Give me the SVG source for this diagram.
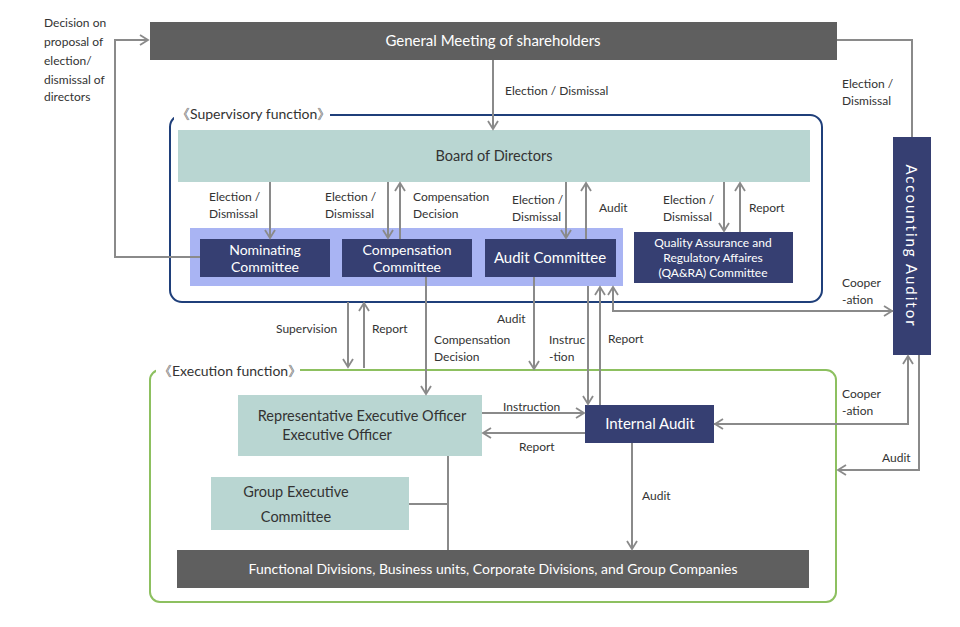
<svg xmlns="http://www.w3.org/2000/svg" width="960" height="627" viewBox="0 0 960 627">
<defs>
<style>
text{font-family:Lato,"Noto Sans","Liberation Sans",sans-serif;fill:#333;font-size:12px}
.w{fill:#fff;font-size:15px}
.s{font-size:14px}
.dk{fill:#333;font-size:14.5px}
.c{text-anchor:middle}
.ln{stroke:#8a8a8a;stroke-width:2;fill:none}
.a{marker-end:url(#ar)}
</style>
<marker id="ar" viewBox="0 0 12 12" refX="10" refY="6" markerWidth="12" markerHeight="12" markerUnits="userSpaceOnUse" orient="auto">
<path d="M2,1 L10,6 L2,11" fill="none" stroke="#8a8a8a" stroke-width="1.8"/>
</marker>
</defs>
<rect width="960" height="627" fill="#fff"/>
<g id="supervisory">
<rect x="170" y="115" width="652" height="187" rx="12" fill="none" stroke="#1f3f7a" stroke-width="2"/>
<rect x="174" y="105" width="156" height="20" fill="#fff"/>
<text x="176" y="119" style="font-size:14px">《Supervisory function》</text>
</g>
<g id="execution">
<rect x="150" y="370" width="686" height="232" rx="10" fill="none" stroke="#8dc060" stroke-width="2"/>
<rect x="156" y="360" width="144" height="20" fill="#fff"/>
<text x="158" y="376" style="font-size:14px">《Execution function》</text>
</g>
<g id="labels">
<text x="44" y="27">Decision on</text>
<text x="44" y="46">proposal of</text>
<text x="44" y="65">election/</text>
<text x="44" y="84">dismissal of</text>
<text x="44" y="101">directors</text>
<text x="505" y="95">Election / Dismissal</text>
<text x="842" y="88">Election /</text>
<text x="842" y="105">Dismissal</text>
<text x="209" y="201">Election /</text>
<text x="209" y="218">Dismissal</text>
<text x="325" y="201">Election /</text>
<text x="325" y="218">Dismissal</text>
<text x="413" y="201">Compensation</text>
<text x="413" y="218">Decision</text>
<text x="512" y="204">Election /</text>
<text x="512" y="221">Dismissal</text>
<text x="599" y="212">Audit</text>
<text x="663" y="204">Election /</text>
<text x="663" y="221">Dismissal</text>
<text x="749" y="212">Report</text>
<text x="276" y="333">Supervision</text>
<text x="372" y="333">Report</text>
<text x="497" y="323">Audit</text>
<text x="434" y="344">Compensation</text>
<text x="434" y="361">Decision</text>
<text x="549" y="344">Instruc</text>
<text x="549" y="361">-tion</text>
<text x="608" y="343">Report</text>
<text x="842" y="287">Cooper</text>
<text x="842" y="304">-ation</text>
<text x="842" y="398">Cooper</text>
<text x="842" y="415">-ation</text>
<text x="882" y="462">Audit</text>
<text x="503" y="411">Instruction</text>
<text x="519" y="451">Report</text>
<text x="642" y="500">Audit</text>
</g>
<g id="gm"><rect x="150" y="22" width="687" height="38" fill="#5f5f5f"/><text class="w c" x="493" y="46">General Meeting of shareholders</text></g>
<g id="board"><rect x="178" y="130" width="632" height="52" fill="#b9d6d2"/><text class="dk c" x="494" y="161">Board of Directors</text></g>
<g id="committees-band"><rect x="190" y="228" width="433" height="58" fill="#a9b4f3"/></g>
<g id="nominating"><rect x="200" y="239" width="130" height="38" fill="#363f72"/><text class="w c s" x="265" y="255">Nominating</text><text class="w c s" x="265" y="272">Committee</text></g>
<g id="compensation"><rect x="342" y="239" width="130" height="38" fill="#363f72"/><text class="w c s" x="407" y="255">Compensation</text><text class="w c s" x="407" y="272">Committee</text></g>
<g id="audit-committee"><rect x="485" y="239" width="131" height="38" fill="#363f72"/><text class="w c" x="550" y="263">Audit Committee</text></g>
<g id="qara"><rect x="634" y="232" width="159" height="51" fill="#363f72"/><text class="w c" style="font-size:12px" x="713" y="247">Quality Assurance and</text><text class="w c" style="font-size:12px" x="713" y="262">Regulatory Affaires</text><text class="w c" style="font-size:12px" x="713" y="277">(QA&amp;RA) Committee</text></g>
<g id="accounting-auditor"><rect x="893" y="137" width="38" height="218" fill="#363f72"/><text class="w c" transform="translate(906,246) rotate(90)" style="letter-spacing:2px">Accounting Auditor</text></g>
<g id="rep-exec"><rect x="238" y="395" width="244" height="61" fill="#b9d6d2"/><text class="dk c" x="362" y="421">Representative Executive Officer</text><text class="dk c" x="337" y="440">Executive Officer</text></g>
<g id="internal-audit"><rect x="585" y="405" width="129" height="38" fill="#363f72"/><text class="w c" x="650" y="429">Internal Audit</text></g>
<g id="group-exec"><rect x="211" y="477" width="198" height="53" fill="#b9d6d2"/><text class="dk c" x="296" y="497">Group Executive</text><text class="dk c" x="296" y="522">Committee</text></g>
<g id="functional"><rect x="177" y="550" width="632" height="38" fill="#5f5f5f"/><text class="w c" style="font-size:14px" x="493" y="574">Functional Divisions, Business units, Corporate Divisions, and Group Companies</text></g>
<g id="connectors">
<path class="ln a" d="M200,257 H115 V40 H148"/>
<path class="ln a" d="M493,60 V129"/>
<path class="ln" d="M837,40 H912 V137"/>
<path class="ln a" d="M270,182 V238"/>
<path class="ln a" d="M388,182 V238"/>
<path class="ln a" d="M400,239 V183"/>
<path class="ln a" d="M566,182 V238"/>
<path class="ln a" d="M586,239 V183"/>
<path class="ln a" d="M724,182 V231"/>
<path class="ln a" d="M740,232 V183"/>
<path class="ln a" d="M348,302 V367"/>
<path class="ln a" d="M364,368 V303"/>
<path class="ln a" d="M426,277 V394"/>
<path class="ln a" d="M534,277 V369"/>
<path class="ln a" d="M588,286 V404"/>
<path class="ln a" d="M600,405 V287"/>
<path class="ln a" d="M893,311 H613 V287"/>
<path class="ln a" d="M613,311 H892"/>
<path class="ln a" d="M714,424 H908 V356"/>
<path class="ln a" d="M908,424 H715"/>
<path class="ln a" d="M919,355 V470 H838"/>
<path class="ln a" d="M482,413 H584"/>
<path class="ln a" d="M585,433 H483"/>
<path class="ln a" d="M632,443 V549"/>
<path class="ln" d="M448,456 V550 M409,504 H448"/>
</g>
</svg>
